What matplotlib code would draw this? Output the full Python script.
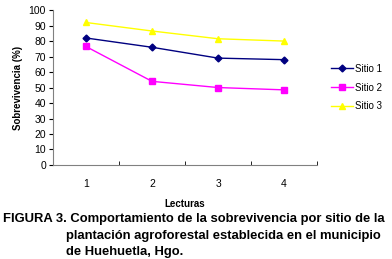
import numpy as np
import matplotlib.pyplot as plt

plt.rcParams['font.family'] = ['Liberation Sans', 'DejaVu Sans']

lecturas = ['1', '2', '3', '4']
sitio1 = [82, 76, 69, 68]
sitio2 = [76.5, 54, 50, 48.5]
sitio3 = [92, 86.5, 81.5, 80]

fig = plt.figure(figsize=(3.92, 2.59), dpi=100)
ax = fig.add_axes([0.135, 0.363, 0.674, 0.598])

x = np.arange(len(lecturas))
ax.plot(x, sitio1, color='#000080', marker='D', markersize=3.5, lw=1, label='Sitio 1')
ax.plot(x, sitio2, color='#FF00FF', marker='s', markersize=5, lw=1, label='Sitio 2')
ax.plot(x, sitio3, color='#FFFF00', marker='^', markersize=5, lw=1, label='Sitio 3')

ax.set_ylim(0, 100)
ax.set_yticks(range(0, 101, 10))
ax.set_xlim(-0.5, 3.5)
ax.set_xticks(x)
ax.set_xticklabels(lecturas)
ax.set_xticks(np.arange(-0.5, 4, 1), minor=True)
ax.tick_params(axis='x', which='major', length=0, pad=10)
ax.tick_params(axis='x', which='minor', length=3, direction='in')
ax.tick_params(axis='y', length=3, pad=2)
ax.tick_params(labelsize=7.5)
for s in ['top', 'right']:
    ax.spines[s].set_visible(False)
for s in ['left', 'bottom']:
    ax.spines[s].set_color('#808080')
    ax.spines[s].set_linewidth(0.8)

ax.set_ylabel('Sobrevivencia (%)', fontsize=7, fontweight='bold', labelpad=4)
ax.set_xlabel('Lecturas', fontsize=7, fontweight='bold', labelpad=7)

ax.legend(loc='center left', bbox_to_anchor=(1.02, 0.5), frameon=False,
          fontsize=7, handlelength=2.2, handletextpad=0.3, labelspacing=0.9)

cap = dict(fontsize=9.4, fontweight='bold', va='center')
fig.text(0.008, 0.154, 'FIGURA 3. Comportamiento de la sobrevivencia por sitio de la', **cap)
fig.text(0.168, 0.089, 'plantación agroforestal establecida en el municipio', **cap)
fig.text(0.168, 0.027, 'de Huehuetla, Hgo.', **cap)

fig.savefig('out.png', dpi=100)
